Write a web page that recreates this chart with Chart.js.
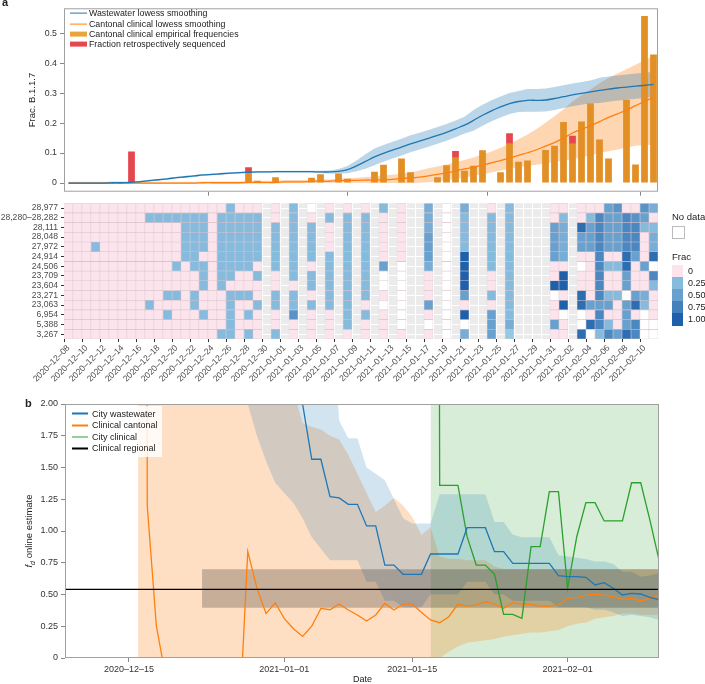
<!DOCTYPE html>
<html><head><meta charset="utf-8">
<script src="https://cdn.jsdelivr.net/npm/chart.js@4.4.1/dist/chart.umd.min.js"></script>
<style>
body{margin:0;background:#fff;width:705px;height:684px;position:relative;overflow:hidden;font-family:"Liberation Sans",Arial,sans-serif;color:#222;}
canvas{position:absolute;left:0;}
.t{position:absolute;white-space:nowrap;line-height:1;}
.lg{position:absolute;display:flex;align-items:center;white-space:nowrap;transform:translateY(-50%);line-height:1;}
.rot{position:absolute;white-space:nowrap;transform:translate(-50%,-50%) rotate(-90deg);line-height:1;}
</style></head><body>
<canvas id="cTop" width="705" height="200" style="top:0;width:705px;height:200px"></canvas>
<canvas id="cHeat" width="705" height="200" style="top:195px;width:705px;height:200px"></canvas>
<canvas id="cB" width="705" height="289" style="top:395px;width:705px;height:289px"></canvas>

<div class="t" style="left:2px;top:-3px;font-weight:bold;font-size:11px;">a</div>
<div class="rot" style="left:32px;top:100px;font-size:9.5px;">Frac. B.1.1.7</div>
<div class="lg" style="left:70px;top:13.3px;font-size:8.8px;"><span style="display:inline-block;width:17px;height:1.4px;background:#1f77b4;margin-right:2px"></span>Wastewater lowess smoothing</div>
<div class="lg" style="left:70px;top:24px;font-size:8.8px;"><span style="display:inline-block;width:17px;height:1.4px;background:#ff7f0e;margin-right:2px"></span>Cantonal clinical lowess smoothing</div>
<div class="lg" style="left:70px;top:34.2px;font-size:8.8px;"><span style="display:inline-block;width:17px;height:5px;background:#e8a53f;margin-right:2px"></span>Cantonal clinical empirical frequencies</div>
<div class="lg" style="left:70px;top:44.3px;font-size:8.8px;"><span style="display:inline-block;width:17px;height:5px;background:#e5474e;margin-right:2px"></span>Fraction retrospectively sequenced</div>

<div class="t" style="left:672px;top:212px;font-size:9.5px;">No data</div>
<div style="position:absolute;left:672px;top:226px;width:11px;height:11px;border:1px solid #bbb;background:#fff;"></div>
<div class="t" style="left:672px;top:252px;font-size:9.5px;">Frac</div>
<div id="fracBar" style="position:absolute;left:672px;top:265px;width:11px;height:61px;"></div>
<div class="t" style="left:688px;top:266.5px;font-size:9px;">0</div>
<div class="t" style="left:688px;top:279px;font-size:9px;">0.25</div>
<div class="t" style="left:688px;top:291px;font-size:9px;">0.50</div>
<div class="t" style="left:688px;top:303px;font-size:9px;">0.75</div>
<div class="t" style="left:688px;top:315px;font-size:9px;">1.00</div>

<div class="t" style="left:25px;top:398px;font-weight:bold;font-size:11px;">b</div>
<div style="position:absolute;left:68px;top:406px;width:94px;height:51px;background:rgba(255,255,255,0.85);"></div>
<div class="lg" style="left:72px;top:413.7px;font-size:9px;"><span style="display:inline-block;width:16px;height:1.5px;background:#1f77b4;margin-right:4px"></span>City wastewater</div>
<div class="lg" style="left:72px;top:425.3px;font-size:9px;"><span style="display:inline-block;width:16px;height:1.5px;background:#ff7f0e;margin-right:4px"></span>Clinical cantonal</div>
<div class="lg" style="left:72px;top:437px;font-size:9px;"><span style="display:inline-block;width:16px;height:1.5px;background:#2ca02c;margin-right:4px"></span>City clinical</div>
<div class="lg" style="left:72px;top:448.3px;font-size:9px;"><span style="display:inline-block;width:16px;height:1.5px;background:#000;margin-right:4px"></span>Clinical regional</div>
<div class="rot" style="left:30px;top:531px;font-size:9.5px;"><i>f</i><sub style="font-size:7px;font-style:italic">d</sub> online estimate</div>
<div class="t" style="left:353px;top:675px;font-size:9px;">Date</div>

<script>
// ---------- categories ----------
const days = [
"2020-12-08","2020-12-09","2020-12-10","2020-12-11","2020-12-12","2020-12-13","2020-12-14","2020-12-15","2020-12-16","2020-12-17","2020-12-18","2020-12-19","2020-12-20","2020-12-21","2020-12-22","2020-12-23","2020-12-24","2020-12-25","2020-12-26","2020-12-27","2020-12-28","2020-12-29","2020-12-30","2020-12-31",
"2021-01-01","2021-01-02","2021-01-03","2021-01-04","2021-01-05","2021-01-06","2021-01-07","2021-01-08","2021-01-09","2021-01-10","2021-01-11","2021-01-12","2021-01-13","2021-01-14","2021-01-15","2021-01-16","2021-01-17","2021-01-18","2021-01-19","2021-01-20","2021-01-21","2021-01-22","2021-01-23","2021-01-24","2021-01-25","2021-01-26","2021-01-27","2021-01-28","2021-01-29","2021-01-30","2021-01-31",
"2021-02-01","2021-02-02","2021-02-03","2021-02-04","2021-02-05","2021-02-06","2021-02-07","2021-02-08","2021-02-09","2021-02-10","2021-02-11"];
const bTickDays = [7, 24, 38, 55];
const bTickLabels = ["2020–12–15", "2021–01–01", "2021–01–15", "2021–02–01"];
const topYTicks = [0, 0.1, 0.2, 0.3, 0.4, 0.5];
const bYTicks = [0, 0.25, 0.5, 0.75, 1, 1.25, 1.5, 1.75, 2];

// ---------- panel a: fractions ----------
const clinDays = [20,21,23,27,28,30,31,34,35,37,38,41,42,43,44,45,46,48,49,50,51,53,54,55,56,57,58,59,60,62,63,64,65];
const clinFreq = [0.032,0.0075,0.019,0.018,0.029,0.032,0.014,0.038,0.061,0.082,0.036,0.019,0.059,0.084,0.041,0.058,0.109,0.036,0.131,0.071,0.075,0.110,0.124,0.204,0.131,0.205,0.266,0.145,0.082,0.278,0.062,0.557,0.429];
const retroDays = [7, 20, 43, 49, 56];
const retroFrac = [0.105, 0.021, 0.023, 0.035, 0.027];

const wwSmooth = [0,0,0,0,0,0.001,0.001,0.002,0.005,0.008,0.011,0.014,0.018,0.021,0.024,0.027,0.029,0.031,0.033,0.035,0.036,0.037,0.037,0.038,0.038,0.038,0.038,0.038,0.037,0.037,0.039,0.045,0.057,0.072,0.087,0.099,0.110,0.120,0.131,0.140,0.149,0.159,0.169,0.181,0.193,0.209,0.226,0.241,0.254,0.265,0.272,0.276,0.276,0.277,0.282,0.288,0.294,0.299,0.304,0.309,0.313,0.317,0.320,0.323,0.326,0.329];
const wwLow = [-0.003,-0.003,-0.003,-0.003,-0.003,-0.002,-0.002,-0.001,0.002,0.005,0.008,0.011,0.015,0.018,0.021,0.024,0.026,0.028,0.030,0.032,0.033,0.034,0.034,0.035,0.035,0.035,0.035,0.035,0.033,0.032,0.031,0.033,0.039,0.048,0.059,0.071,0.082,0.092,0.103,0.112,0.121,0.131,0.141,0.153,0.165,0.174,0.191,0.206,0.219,0.230,0.237,0.238,0.238,0.239,0.244,0.250,0.256,0.261,0.266,0.267,0.271,0.275,0.278,0.281,0.284,0.287];
const wwHigh = [0.003,0.003,0.003,0.003,0.003,0.004,0.004,0.005,0.008,0.011,0.014,0.017,0.021,0.024,0.027,0.030,0.032,0.034,0.036,0.038,0.039,0.040,0.040,0.041,0.041,0.041,0.041,0.041,0.041,0.042,0.047,0.057,0.075,0.096,0.115,0.127,0.138,0.148,0.159,0.168,0.177,0.187,0.197,0.209,0.221,0.244,0.261,0.276,0.289,0.300,0.307,0.314,0.314,0.315,0.320,0.326,0.332,0.337,0.342,0.351,0.355,0.359,0.362,0.365,0.368,0.371];
const cantSmooth = [0,0,0,0,0,0,0,0,0,0,0,0,0,0,0,0.001,0.001,0.001,0.001,0.001,0.002,0.002,0.002,0.002,0.004,0.004,0.004,0.006,0.006,0.006,0.008,0.009,0.009,0.010,0.010,0.011,0.012,0.015,0.017,0.020,0.024,0.029,0.034,0.040,0.047,0.053,0.060,0.067,0.075,0.083,0.092,0.101,0.111,0.123,0.135,0.150,0.167,0.180,0.191,0.205,0.219,0.231,0.243,0.258,0.272,0.286];
const cantLow = [-0.003,-0.003,-0.003,-0.003,-0.003,-0.003,-0.003,-0.003,-0.003,-0.003,-0.003,-0.003,-0.003,-0.003,-0.003,-0.002,-0.002,-0.002,-0.002,-0.002,-0.002,-0.002,-0.002,-0.002,0,0,0,0.001,0.001,0.001,0.002,0.002,0.001,0.001,0,0,0,0,0,0.001,0.003,0.006,0.009,0.013,0.018,0.024,0.030,0.035,0.042,0.048,0.053,0.057,0.061,0.066,0.070,0.074,0.080,0.086,0.093,0.100,0.106,0.112,0.118,0.124,0.127,0.128];
const cantHigh = [0.004,0.004,0.004,0.004,0.004,0.004,0.004,0.004,0.004,0.004,0.004,0.004,0.004,0.004,0.004,0.005,0.005,0.005,0.005,0.005,0.008,0.008,0.008,0.008,0.010,0.010,0.010,0.012,0.012,0.012,0.014,0.016,0.018,0.020,0.022,0.025,0.028,0.031,0.036,0.042,0.049,0.055,0.062,0.069,0.077,0.085,0.095,0.105,0.117,0.131,0.146,0.162,0.180,0.201,0.223,0.246,0.272,0.293,0.312,0.333,0.350,0.365,0.380,0.395,0.410,0.422];

// ---------- heatmap ('-' = no sample, 'x' = no data, digits = frac*10, 'a' = 1) ----------
const mutLabels = ["28,977","28,280–28,282","28,111","28,048","27,972","24,914","24,506","23,709","23,604","23,271","23,063","6,954","5,388","3,267"];
const heatRows = [
"0000000000000000003000"+"-0-3-x-0-0-0-3-0--4-x-4--0-3----00-000560064",
"0000000003333333033333"+"-0-3-0-3-3-3-0-0--4-x-3--3-3----03-037557650",
"0000000000000333033333"+"-3-3-3-0-3-3-0-0--4-x-3--3-3----54-957557733",
"0000000000000333033333"+"-3-3-3-0-3-3-0-0--5-x-3--3-3----54-557557704",
"0003000000000333033333"+"-3-3-3-0-3-3-0-0--5-x-3--3-3----54-557557704",
"0000000000000330033333"+"-3-3-3-3-3-3-0-0--5-x-a--3-3----54-007009509",
"0000000000003033033330"+"-3-3-0-3-3-3-5-x--4-x-a--3-3----00-x0733905x",
"0000000000000003033003"+"-0-3-3-3-3-3-x-x--0-x-a--0-3----0a-007005007",
"0000000000000003030000"+"-0-0-3-3-3-3-x-x--0-x-a--0-3----aa-007005003",
"0000000000033030003330"+"-3-3-0-3-3-3-0-x--0-x-5--3-3----x0-90733x540",
"0000000003000030003003"+"-3-3-3-3-3-0-x-x--5-x-0--0-3----0a-955505930",
"0000000000030003003030"+"-0-6-0-0-3-3-0-x--0-x-a--5-3----0x-x070050x0",
"0000000000000000003000"+"-0-0-0-0-3-0-0-x--x-x-x--5-4----50-x973057xx",
"0000000000000000033030"+"-3-0-0-0-0-0-0-0--0-x-4--5-2----00-9x37597xx"];

// ---------- panel b: online estimates ----------
const bWwStart = 24;
const bWw = [2.5,2.0,2.0,1.565,1.565,1.27,1.26,1.21,1.21,1.04,1.04,0.732,0.732,0.659,0.659,0.659,0.819,0.819,0.819,0.819,1.026,1.026,1.026,0.837,0.837,0.745,0.745,0.745,0.745,0.745,0.648,0.64,0.64,0.635,0.575,0.593,0.549,0.496,0.509,0.504,0.478,0.46];
const bWwBandStart = 20;
const bWwHigh = [3,3,3,3,3,3,3,3,3,3,1.87,1.73,1.73,1.5,1.45,1.4,1.25,1.1,1.06,1.06,1.06,1.29,1.29,1.29,1.29,1.29,1.29,1.07,1.07,0.97,0.95,0.95,0.95,0.95,0.81,0.8,0.79,0.78,0.76,0.76,0.74,0.68,0.68,0.64,0.65,0.67];
const bWwLow = [2.0,1.75,1.55,1.38,1.3,1.22,1.1,0.95,0.86,0.77,0.77,0.77,0.77,0.6,0.6,0.45,0.45,0.4,0.4,0.4,0.5,0.5,0.5,0.5,0.6,0.6,0.6,0.5,0.5,0.45,0.45,0.45,0.45,0.45,0.4,0.4,0.4,0.4,0.38,0.38,0.36,0.33,0.34,0.33,0.32,0.3];
const bCantStart = 8;
const bCant = [60,1.2,0.25,-0.14,null,null,null,null,null,null,null,-0.63,0.84,0.55,0.35,0.435,0.31,0.23,0.17,0.25,0.39,0.38,0.425,0.378,0.339,0.291,0.339,0.43,0.378,0.425,0.425,0.36,0.30,0.278,0.325,0.425,0.409,0.417,0.443,0.425,0.391,0.436,0.425,0.425,0.409,0.409,0.417,0.47,0.478,0.493,0.504,0.493,0.483,0.462,0.47,0.451,0.47,0.493];
const bCantHigh = [3,3,3,3,3,3,3,3,3,3,3,3,3,3,3,3,3,2.1,1.85,1.82,1.8,1.75,1.72,1.6,1.45,1.3,1.15,1.2,1.26,1.2,1.11,0.97,1.03,0.8,0.78,0.78,0.77,0.77,0.77,0.72,0.7,0.7,0.7,0.7,0.7,0.7,0.7,0.7,0.7,0.7,0.7,0.7,0.7,0.7,0.7,0.7,0.7,0.7];
const bCantLow = [-0.1,-0.1,-0.1,-0.1,-0.1,-0.1,-0.1,-0.1,-0.1,-0.1,-0.1,-0.1,-0.1,-0.1,-0.1,-0.1,-0.1,-0.1,-0.1,-0.1,-0.1,-0.1,-0.1,-0.1,-0.1,-0.1,-0.1,-0.1,-0.1,-0.1,-0.1,-0.1,-0.1,0.0,0.05,0.09,0.12,0.13,0.14,0.15,0.17,0.18,0.19,0.2,0.2,0.21,0.22,0.25,0.27,0.28,0.31,0.32,0.33,0.35,0.35,0.34,0.34,0.34];
const bClinStart = 40;
const bClin = [30,1.36,1.36,1.36,0.955,0.732,0.732,0.659,0.344,0.344,0.312,0.877,0.877,1.31,1.31,0.549,0.955,1.223,1.223,1.079,1.079,1.079,1.38,1.38,1.087,0.772];
const bClinHigh = [3,3,3,3,3,3,3,3,3,3,3,3,3,3,3,3,3,3,3,3,3,3,3,3,3,3];
const bClinLow = [-0.1,-0.1,-0.1,-0.1,-0.1,-0.1,-0.1,-0.1,-0.1,-0.1,-0.1,-0.1,-0.1,-0.1,-0.1,-0.1,-0.1,-0.1,-0.1,-0.1,-0.1,-0.1,-0.1,-0.1,-0.1,-0.1];
const regionalValue = 0.541;
const regionalBand = [0.396, 0.698];
const regionalBandStart = 15;

// ---------- helpers ----------
const xy = (start, arr) => arr.map((v, i) => ({x: start + i, y: v}));
const fixTicks = vals => scale => { scale.ticks = vals.map(v => ({value: v})); };
const FONT = "'Liberation Sans', Arial, sans-serif";
const framePlugin = {id: 'frame', afterDatasetsDraw(c, a, o) {
  if (!o || !o.color) return; const {left, top, right, bottom} = c.chartArea; const ctx = c.ctx;
  ctx.save(); ctx.strokeStyle = o.color; ctx.lineWidth = 1; ctx.strokeRect(left + 0.5, top + 0.5, right - left - 1, bottom - top - 1); ctx.restore(); }};
const bgPlugin = {id: 'bg', beforeDraw(c, a, o) {
  if (!o || !o.color) return; const {left, top, right, bottom} = c.chartArea; const ctx = c.ctx;
  ctx.save(); ctx.fillStyle = o.color; ctx.fillRect(left, top, right - left, bottom - top); ctx.restore(); }};
function blueScale(v) {
  const t = Math.max(0, Math.min(1, (v - 0.2) / 0.8));
  return `rgb(${Math.round(150 - 120 * t)},${Math.round(200 - 104 * t)},${Math.round(228 - 58 * t)})`;
}
const PINK = 'rgb(252,228,236)';
function heatColor(ch) {
  if (ch === 'x') return '#ffffff';
  if (ch === '0') return PINK;
  return blueScale(ch === 'a' ? 1 : parseInt(ch, 10) / 10);
}
document.getElementById('fracBar').style.background =
  `linear-gradient(to bottom, ${PINK} 0 12px, ${blueScale(0.3)} 12px 24px, ${blueScale(0.5)} 24px 36px, ${blueScale(0.75)} 36px 48px, ${blueScale(1)} 48px 61px)`;

const common = {responsive: false, animation: false, events: [],
  plugins: {legend: {display: false}, tooltip: {enabled: false}}};

// ---------- top chart ----------
const redData = retroDays.map((d, i) => {
  const k = clinDays.indexOf(d); const base = k >= 0 ? clinFreq[k] : 0;
  return {x: d, y: [base, base + retroFrac[i]]};
});
const lineBase = {type: 'line', pointRadius: 0, borderJoinStyle: 'round'};
new Chart(document.getElementById('cTop'), {
  type: 'bar',
  data: {datasets: [
    {...lineBase, data: xy(0, wwSmooth), borderColor: '#1f77b4', borderWidth: 1.3, tension: 0.4, order: 0},
    {...lineBase, data: xy(0, cantSmooth), borderColor: '#ff7f0e', borderWidth: 1.3, tension: 0.4, order: 1},
    {type: 'bar', data: redData, backgroundColor: '#e5474e', grouped: false, barPercentage: 0.75, categoryPercentage: 1, order: 2},
    {type: 'bar', data: clinDays.map((d, i) => ({x: d, y: clinFreq[i]})), backgroundColor: '#e28f26', grouped: false, barPercentage: 0.75, categoryPercentage: 1, order: 3},
    {...lineBase, data: xy(0, cantLow), borderWidth: 0, borderColor: 'transparent', fill: false, order: 5},
    {...lineBase, data: xy(0, cantHigh), borderWidth: 0, borderColor: 'transparent', fill: '-1', backgroundColor: 'rgba(255,127,14,0.32)', order: 5},
    {...lineBase, data: xy(0, wwLow), borderWidth: 0, borderColor: 'transparent', fill: false, order: 4},
    {...lineBase, data: xy(0, wwHigh), borderWidth: 0, borderColor: 'transparent', fill: '-1', backgroundColor: 'rgba(31,119,180,0.3)', order: 4}
  ]},
  options: {...common,
    layout: {padding: {top: 4, right: 47, left: 0, bottom: 0}},
    plugins: {...common.plugins, frame: {color: '#a0a0a0'}},
    scales: {
      x: {type: 'linear', min: -0.5, max: 65.5, offset: false, afterBuildTicks: fixTicks(bTickDays),
        afterFit: s => { s.height = 5; },
        ticks: {display: false}, grid: {drawOnChartArea: false, drawTicks: true, tickLength: 4, color: '#888'}, border: {display: false}},
      y: {min: -0.029, max: 0.583, afterBuildTicks: fixTicks(topYTicks), afterFit: s => { s.width = 64; },
        ticks: {callback: v => v === 0 ? '0' : v.toFixed(1), font: {family: FONT, size: 8.8}, color: '#333', padding: 3},
        grid: {drawOnChartArea: false, tickLength: 4, color: '#888'}, border: {display: false}}
    }
  },
  plugins: [framePlugin]
});

// ---------- heatmap ----------
const heatSets = heatRows.map((row, r) => {
  const pts = [], cols = [];
  for (let c = 0; c < row.length; c++) {
    const ch = row[c]; if (ch === '-') continue;
    pts.push({x: c, y: [r, r + 1]}); cols.push(heatColor(ch));
  }
  return {data: pts, backgroundColor: cols, borderColor: 'rgba(200,165,180,0.45)', borderWidth: 0.6, borderSkipped: false,
    grouped: false, barPercentage: 1, categoryPercentage: 1};
});
new Chart(document.getElementById('cHeat'), {
  type: 'bar',
  data: {datasets: heatSets},
  options: {...common,
    layout: {padding: {top: 4, right: 47, left: 0, bottom: 0}},
    plugins: {...common.plugins, bg: {color: '#ebebeb'}},
    scales: {
      x: {type: 'linear', min: -0.5, max: 65.5, offset: false,
        afterBuildTicks: fixTicks(days.map((d, i) => i)), afterFit: s => { s.height = 56; },
        ticks: {autoSkip: false, maxRotation: 45, minRotation: 45, padding: 1,
          callback: v => (v % 2 === 0 ? days[v].replace(/-/g, '–') : ''), font: {family: FONT, size: 8.6}, color: '#4d4d4d'},
        grid: {color: '#ffffff', lineWidth: 1, tickLength: 3, tickColor: ctx => (ctx.tick && ctx.tick.value % 2 === 0 ? '#333' : 'rgba(0,0,0,0)')},
        border: {display: false}},
      y: {min: 0, max: 14, reverse: true, afterBuildTicks: fixTicks(mutLabels.map((m, i) => i + 0.5)),
        afterFit: s => { s.width = 64; },
        ticks: {autoSkip: false, callback: v => mutLabels[Math.floor(v)], font: {family: FONT, size: 8.6}, color: '#4d4d4d', padding: 3},
        grid: {color: '#ffffff', lineWidth: 1, tickLength: 3, tickColor: '#333'}, border: {display: false}}
    }
  },
  plugins: [bgPlugin]
});

// ---------- panel b ----------
const bandLine = {type: 'line', pointRadius: 0, borderWidth: 0, borderColor: 'transparent'};
new Chart(document.getElementById('cB'), {
  type: 'line',
  data: {datasets: [
    {type: 'line', data: [{x: 0, y: regionalValue}, {x: 65, y: regionalValue}], borderColor: '#000', borderWidth: 1.3, pointRadius: 0, order: 0},
    {type: 'line', data: xy(bWwStart, bWw), borderColor: '#1f77b4', borderWidth: 1.3, pointRadius: 0, order: 1},
    {type: 'line', data: xy(bClinStart, bClin), borderColor: '#2ca02c', borderWidth: 1.3, pointRadius: 0, order: 2},
    {type: 'line', data: xy(bCantStart, bCant), borderColor: '#ff7f0e', borderWidth: 1.3, pointRadius: 0, spanGaps: false, order: 3},
    {...bandLine, data: [{x: regionalBandStart, y: regionalBand[0]}, {x: 65, y: regionalBand[0]}], fill: false, order: 10},
    {...bandLine, data: [{x: regionalBandStart, y: regionalBand[1]}, {x: 65, y: regionalBand[1]}], fill: '-1', backgroundColor: 'rgba(0,0,0,0.22)', order: 10},
    {...bandLine, data: xy(bWwBandStart, bWwLow), fill: false, order: 11},
    {...bandLine, data: xy(bWwBandStart, bWwHigh), fill: '-1', backgroundColor: 'rgba(31,119,180,0.2)', order: 11},
    {...bandLine, data: xy(bCantStart, bCantLow), fill: false, order: 12},
    {...bandLine, data: xy(bCantStart, bCantHigh), fill: '-1', backgroundColor: 'rgba(255,127,14,0.25)', order: 12},
    {...bandLine, data: xy(bClinStart, bClinLow), fill: false, order: 13},
    {...bandLine, data: xy(bClinStart, bClinHigh), fill: '-1', backgroundColor: 'rgba(44,160,44,0.19)', order: 13}
  ]},
  options: {...common,
    layout: {padding: {top: 9, right: 46, left: 0, bottom: 0}},
    plugins: {...common.plugins, frame: {color: '#a0a0a0'}},
    scales: {
      x: {type: 'linear', min: 0, max: 65, afterBuildTicks: fixTicks(bTickDays), afterFit: s => { s.height = 26; },
        ticks: {callback: v => bTickLabels[bTickDays.indexOf(v)], font: {family: FONT, size: 9}, color: '#333', padding: 2, maxRotation: 0},
        grid: {drawOnChartArea: false, tickLength: 4, color: '#888'}, border: {display: false}},
      y: {min: 0, max: 2, afterBuildTicks: fixTicks(bYTicks), afterFit: s => { s.width = 65; },
        ticks: {callback: v => v === 0 ? '0' : v.toFixed(2), font: {family: FONT, size: 9}, color: '#333', padding: 3},
        grid: {drawOnChartArea: false, tickLength: 4, color: '#888'}, border: {display: false}}
    }
  },
  plugins: [framePlugin]
});
</script>
</body></html>
